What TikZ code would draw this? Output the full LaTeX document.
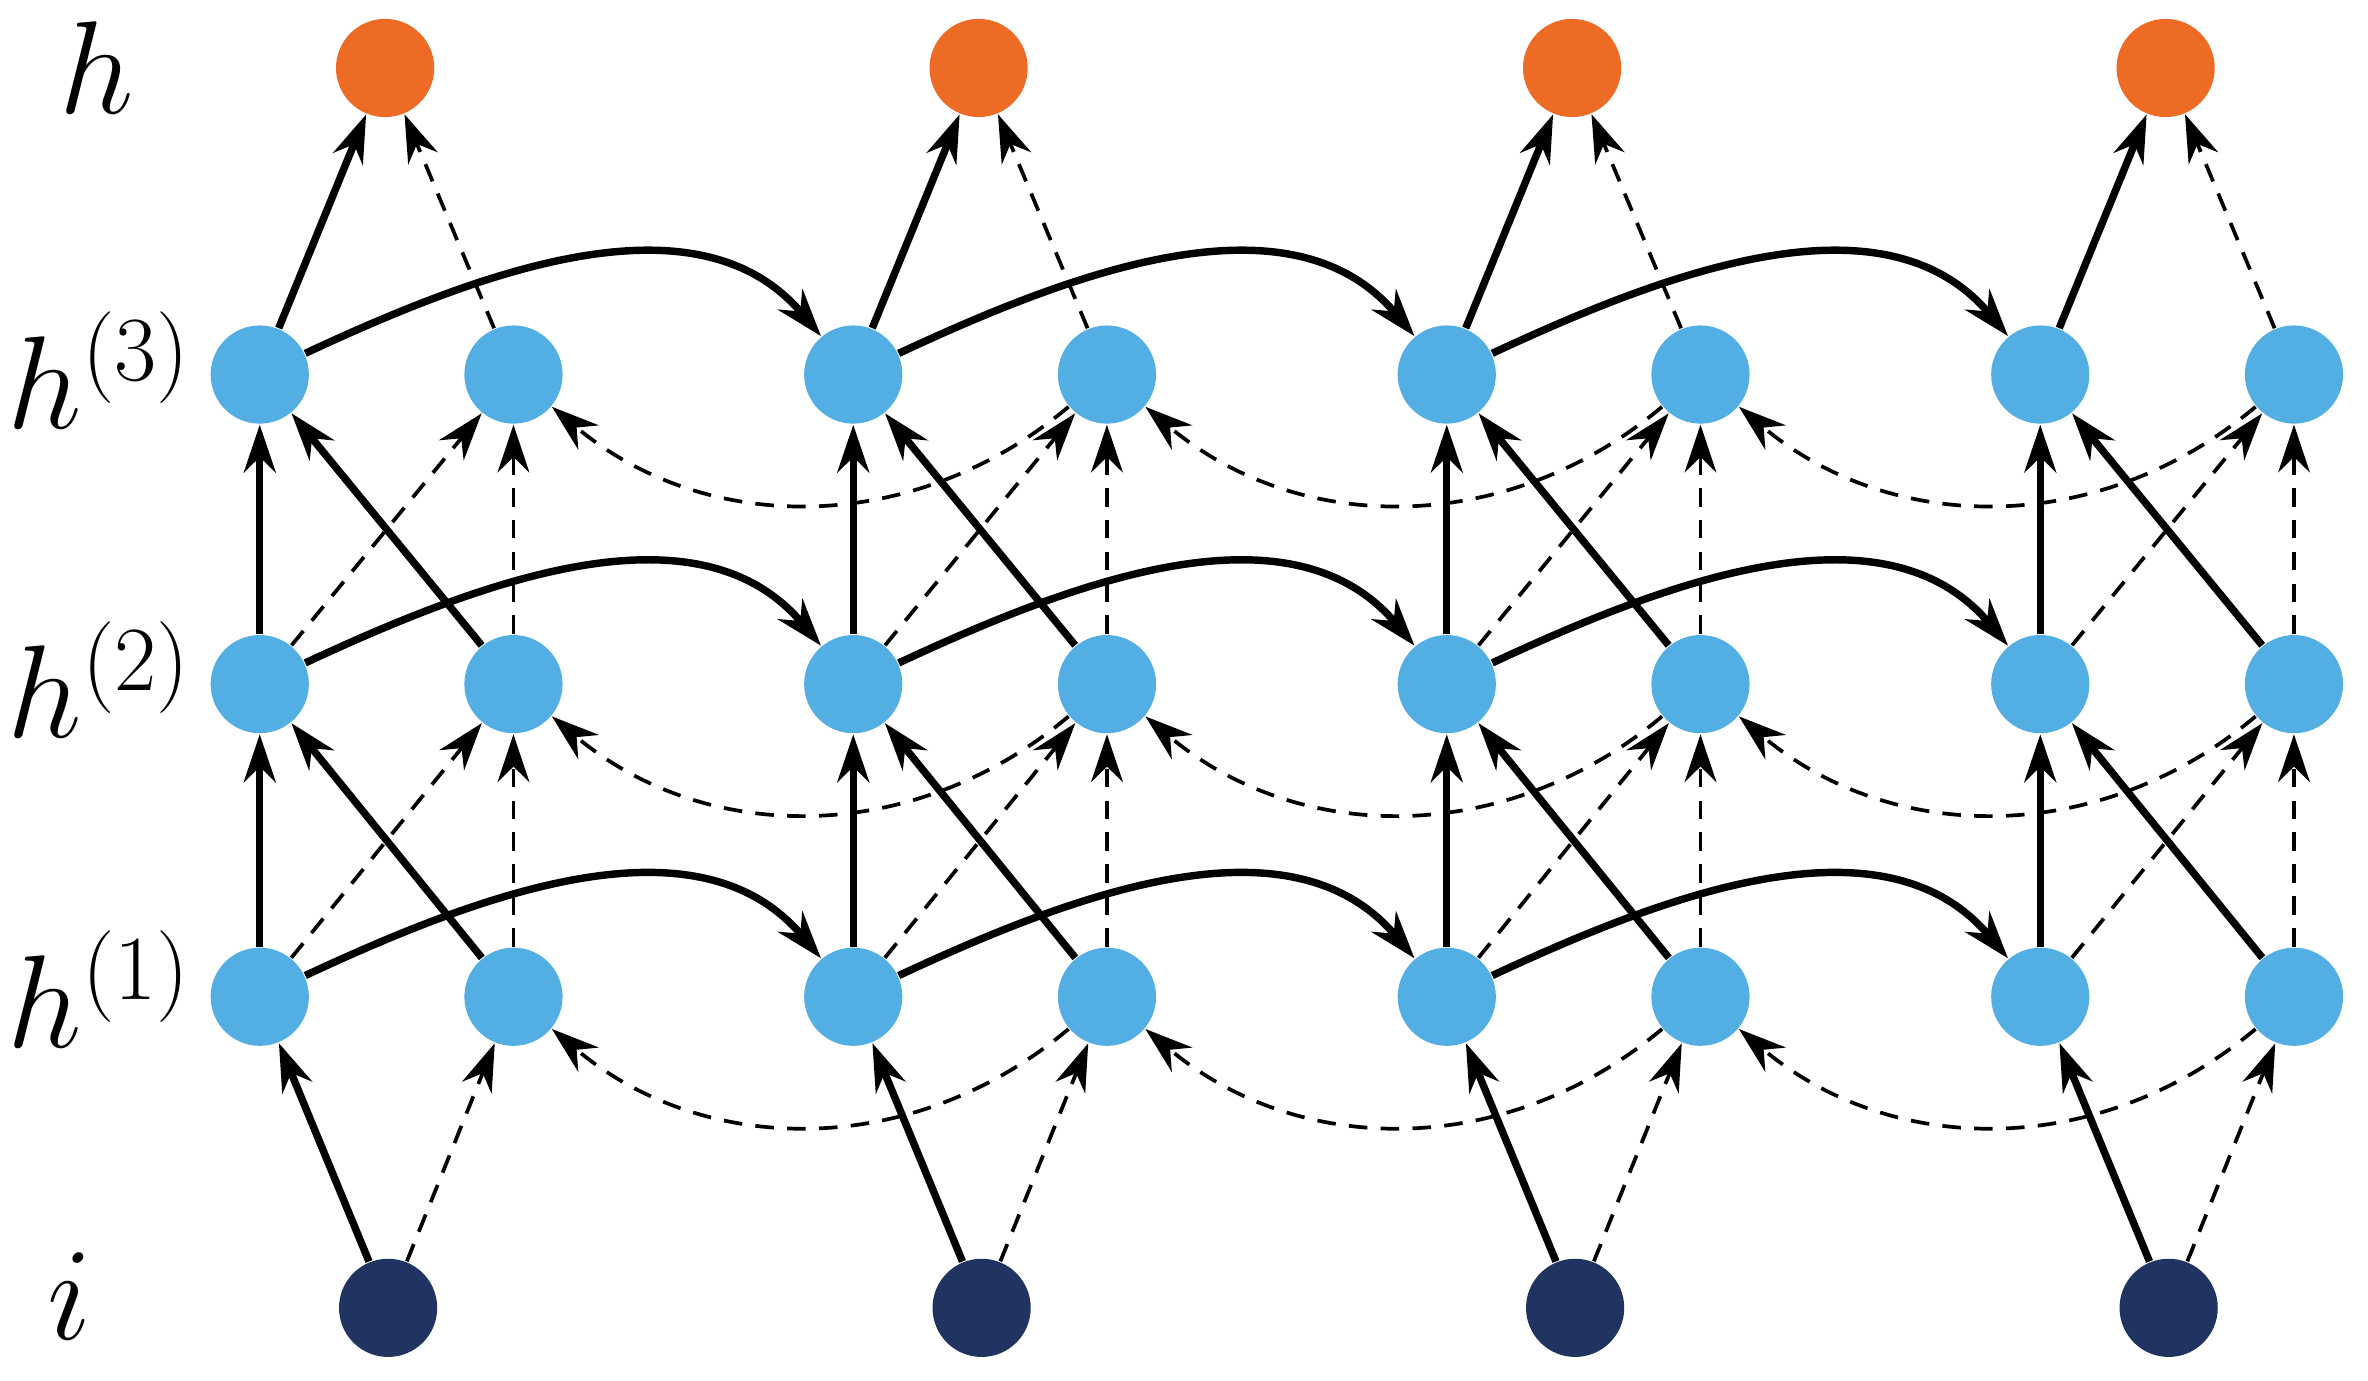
\documentclass[tikz,border=0pt]{standalone}
\usetikzlibrary{arrows.meta}
\definecolor{nb}{HTML}{52AEE3}
\definecolor{no}{HTML}{EE6B25}
\definecolor{nn}{HTML}{213360}
\begin{document}
\begin{tikzpicture}[x=0.01cm,y=-0.01cm,
  n/.style={circle,minimum size=0.65cm,inner sep=0pt,fill=nb},
  o/.style={n,fill=no},
  inp/.style={n,fill=nn},
  s/.style={line width=1.4pt,-{Stealth[length=9pt,width=6pt]}},
  d/.style={line width=0.7pt,dash pattern=on 3.5pt off 2.5pt,-{Stealth[length=9pt,width=6pt]}},
  lab/.style={font=\fontsize{26}{30}\selectfont}]
\useasboundingbox (0,0) rectangle (1568,914);
\node[lab] (lh) at (64,45) {$h$};
\node[lab] (l3) at (66,245) {$h^{(3)}$};
\node[lab] (l2) at (66,450) {$h^{(2)}$};
\node[lab] (l1) at (66,655) {$h^{(1)}$};
\node[lab] (li) at (46,858) {$i$};
\foreach \g in {0,1,2,3}{
  \pgfmathsetmacro{\fx}{172+393*\g}
  \pgfmathsetmacro{\bx}{340+393*\g}
  \pgfmathsetmacro{\mx}{257+393*\g}
  \node[o] (h\g) at (\mx-2,45) {};
  \node[inp] (i\g) at (\mx,866) {};
  \node[n] (f1\g) at (\fx,660) {};
  \node[n] (f2\g) at (\fx,453) {};
  \node[n] (f3\g) at (\fx,248) {};
  \node[n] (b1\g) at (\bx,660) {};
  \node[n] (b2\g) at (\bx,453) {};
  \node[n] (b3\g) at (\bx,248) {};
  \draw[s] (i\g) -- (f1\g);
  \draw[d] (i\g) -- (b1\g);
  \draw[s] (f1\g) -- (f2\g);
  \draw[s] (f2\g) -- (f3\g);
  \draw[d] (b1\g) -- (b2\g);
  \draw[d] (b2\g) -- (b3\g);
  \draw[s] (b1\g) -- (f2\g);
  \draw[s] (b2\g) -- (f3\g);
  \draw[d] (f1\g) -- (b2\g);
  \draw[d] (f2\g) -- (b3\g);
  \draw[s] (f3\g) -- (h\g);
  \draw[d] (b3\g) -- (h\g);
}
\foreach \g/\h in {0/1,1/2,2/3}{
  \foreach \l in {1,2,3}{
    \draw[s] (f\l\g) to[out=25,in=130,looseness=0.95] (f\l\h);
    \draw[d] (b\l\h) to[out=-140,in=-40,looseness=1] (b\l\g);
  }
}
\end{tikzpicture}
\end{document}
